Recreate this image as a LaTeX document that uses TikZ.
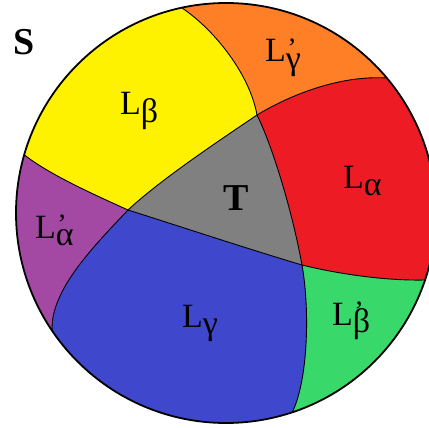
\documentclass[tikz,border=0pt]{standalone}
\usepackage{fontspec}
\setmainfont{Liberation Serif}
\usetikzlibrary{positioning}
\definecolor{cyellow}{HTML}{FFF200}
\definecolor{corange}{HTML}{FF7F27}
\definecolor{cred}{HTML}{ED1C24}
\definecolor{cgrey}{HTML}{808080}
\definecolor{cpurple}{HTML}{A349A4}
\definecolor{cblue}{HTML}{3F48CC}
\definecolor{cgreen}{HTML}{38D96A}
\newcommand{\Lsub}[1]{L\raisebox{-0.22em}{#1}}
\newcommand{\Lpsub}[1]{L\rlap{\kern1.5pt\raisebox{0.12em}{\fontsize{28}{28}\selectfont'}}\raisebox{-0.22em}{#1}}
\tikzset{
  every picture/.style={x=1pt, y=-1pt},
  patch/.style={fill=#1, draw=none},
  seam/.style={draw=black, line width=0.9pt},
  rim/.style={draw=black, line width=1.8pt},
  lab/.style={font=\fontsize{34}{36}\selectfont, anchor=base west, inner sep=0pt},
  biglab/.style={font=\fontsize{38}{40}\selectfont\bfseries, anchor=base west, inner sep=0pt},
}

\begin{document}
\begin{tikzpicture}
  \clip (0,0) rectangle (429,428);
  \coordinate (ctr) at (226,213);
  % corners of the middle triangle
  \coordinate (tTop) at (257,115);
  \coordinate (tLeft) at (128,210);
  \coordinate (tRight) at (302,265);
  % seam ends on the rim, and points just outside it
  \foreach \n/\x/\y/\ox/\oy in {A/181.6/7.7/172/-40, B/386.9/78/430/40, C/425/280/470/295,
                                D/292.3/412.2/306/460, E/52.1/330.7/15/360, F/24.2/154.8/-20/143} {
    \coordinate (\n) at (\x,\y);
    \coordinate (out\n) at (\ox,\oy);
  }

  \begin{scope}
    \clip (ctr) circle[radius=210];
    \fill[patch=cyellow] (outF) -- (F) .. controls (50,175) and (95,195) .. (tLeft)
      .. controls (160,180) and (220,140) .. (tTop)
      .. controls (250,75) and (215,30) .. (A) -- (outA) -- (-50,-50) -- cycle;
    \fill[patch=corange] (outA) -- (A) .. controls (215,30) and (250,75) .. (tTop)
      .. controls (290,95) and (340,75) .. (B) -- (outB) -- (440,-50) -- (172,-50) -- cycle;
    \fill[patch=cred] (tTop) .. controls (290,95) and (340,75) .. (B) -- (outB) -- (480,40) -- (480,295)
      -- (outC) -- (C) .. controls (380,281) and (330,272) .. (tRight)
      .. controls (292,210) and (272,145) .. (tTop) -- cycle;
    \fill[patch=cgreen] (tRight) .. controls (330,272) and (380,281) .. (C) -- (outC) -- (480,480)
      -- (outD) -- (D) .. controls (308,380) and (310,310) .. (tRight) -- cycle;
    \fill[patch=cblue] (tLeft) .. controls (185,228) and (245,248) .. (tRight)
      .. controls (310,310) and (308,380) .. (D) -- (outD) -- (-50,480) -- (outE) -- (E)
      .. controls (50,290) and (95,245) .. (tLeft) -- cycle;
    \fill[patch=cpurple] (tLeft) .. controls (95,245) and (50,290) .. (E) -- (outE) -- (outF) -- (F)
      .. controls (50,175) and (95,195) .. (tLeft) -- cycle;
    \fill[patch=cgrey] (tLeft) .. controls (160,180) and (220,140) .. (tTop)
      .. controls (272,145) and (292,210) .. (tRight)
      .. controls (245,248) and (185,228) .. (tLeft) -- cycle;

    % seams
    \draw[seam] (A) .. controls (215,30) and (250,75) .. (tTop);
    \draw[seam] (tTop) .. controls (290,95) and (340,75) .. (B);
    \draw[seam] (tTop) .. controls (272,145) and (292,210) .. (tRight);
    \draw[seam] (tRight) .. controls (330,272) and (380,281) .. (C);
    \draw[seam] (tRight) .. controls (310,310) and (308,380) .. (D);
    \draw[seam] (tLeft) .. controls (185,228) and (245,248) .. (tRight);
    \draw[seam] (tLeft) .. controls (160,180) and (220,140) .. (tTop);
    \draw[seam] (F) .. controls (50,175) and (95,195) .. (tLeft);
    \draw[seam] (tLeft) .. controls (95,245) and (50,290) .. (E);
  \end{scope}
  \draw[rim] (ctr) circle[radius=210];

  \node[biglab] (sLab) at (13,55) {S};
  \node[biglab] (tLab) at (223,210) {T};
  \foreach \n/\x/\y/\txt in {lbeta/120/115/{\Lsub{β}}, lgammap/265/62/{\Lpsub{γ}},
                              lalpha/343/188/{\Lsub{α}}, lalphap/35/238/{\Lpsub{α}},
                              lgamma/182/327/{\Lsub{γ}}, lbetap/332/325/{\Lpsub{β}}}
    \node[lab] (\n) at (\x,\y) {\txt};
\end{tikzpicture}
\end{document}
